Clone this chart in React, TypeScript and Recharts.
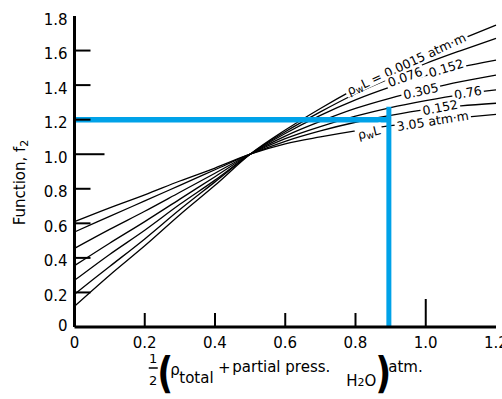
import React from 'react';
import { LineChart, Line, XAxis, YAxis, ReferenceDot, Label } from 'recharts';

const FONT = '"DejaVu Sans", sans-serif';

// x values: 1/2 (P_total + partial press. H2O), atm
const xValues = [0, 0.1, 0.2, 0.3, 0.4, 0.5, 0.6, 0.7, 0.8, 0.9, 1.0, 1.1, 1.2];

// Function f2 for each pwL curve
const f2_0015 = [0.12, 0.3, 0.47, 0.65, 0.82, 1.0, 1.14, 1.265, 1.38, 1.485, 1.58, 1.665, 1.747];
const f2_076 = [0.19, 0.35, 0.51, 0.68, 0.84, 1.0, 1.13, 1.245, 1.35, 1.44, 1.525, 1.6, 1.671];
const f2_152 = [0.27, 0.42, 0.56, 0.71, 0.85, 1.0, 1.12, 1.225, 1.315, 1.39, 1.455, 1.505, 1.545];
const f2_305 = [0.355, 0.485, 0.61, 0.74, 0.87, 1.0, 1.105, 1.19, 1.265, 1.325, 1.375, 1.42, 1.458];
const f2_76 = [0.455, 0.565, 0.67, 0.78, 0.89, 1.0, 1.09, 1.16, 1.22, 1.27, 1.31, 1.345, 1.372];
const f2_152b = [0.55, 0.64, 0.73, 0.82, 0.91, 1.0, 1.075, 1.135, 1.185, 1.225, 1.258, 1.28, 1.295];
const f2_305b = [0.61, 0.69, 0.765, 0.845, 0.92, 1.0, 1.06, 1.1, 1.135, 1.165, 1.19, 1.212, 1.231];

const curveSeries = [f2_0015, f2_076, f2_152, f2_305, f2_76, f2_152b, f2_305b];
const curveKeys = ['c1', 'c2', 'c3', 'c4', 'c5', 'c6', 'c7'];

// curve annotations (text, position in data units, angle)
const labelTexts = ['ρwL = 0.0015 atm·m', '0.076', '0.152', '0.305', '0.76', '0.152', 'ρwL', '3.05 atm·m'];
const labelX = [0.944, 0.941, 1.058, 0.986, 1.12, 1.041, 0.838, 1.02];
const labelY = [1.525, 1.447, 1.499, 1.366, 1.357, 1.271, 1.129, 1.193];
const labelAngles = [-25, -20, -17, -13, -10, -11, -14, -9];

// blue reading lines
const readX = 0.895;
const readY = 1.2;
const readTop = 1.275;
const blueH = [{ x: 0, y: readY }, { x: readX, y: readY }];
const blueV = [{ x: readX, y: 0 }, { x: readX, y: readTop }];

const xTicks = [0, 0.2, 0.4, 0.6, 0.8, 1.0, 1.2];
const yTicks = [0, 0.2, 0.4, 0.6, 0.8, 1.0, 1.2, 1.4, 1.6, 1.8];

const table = xValues.map((x, i) => {
  const row: any = { x };
  curveKeys.forEach((k, j) => {
    row[k] = curveSeries[j][i];
  });
  return row;
});

const fmt = (v: number) => (v === 0 ? '0' : v.toFixed(1));
const tickLen = (v: number) => (Math.abs(v - 1) < 1e-6 ? 28 : 14);

const BottomTick = (p: any) => {
  const v = p.payload.value;
  const edge = v === 0 || v === 1.2;
  return (
    <g>
      {!edge && <line x1={p.x} x2={p.x} y1={p.y} y2={p.y - tickLen(v)} stroke="#000" strokeWidth={2} />}
      <text x={p.x} y={p.y + 20.5} textAnchor="middle" fontFamily={FONT} fontSize={15} fill="#000">
        {fmt(v)}
      </text>
    </g>
  );
};

const TopTick = (p: any) => {
  const v = p.payload.value;
  const edge = v === 0 || v === 1.2;
  if (edge) return <g />;
  return <line x1={p.x} x2={p.x} y1={p.y} y2={p.y + tickLen(v)} stroke="#000" strokeWidth={2} />;
};

const LeftTick = (p: any) => {
  const v = p.payload.value;
  const edge = v === 0 || v === 1.8;
  return (
    <g>
      {!edge && <line x1={p.x} x2={p.x + tickLen(v) + 2} y1={p.y} y2={p.y} stroke="#000" strokeWidth={2} />}
      <text x={p.x - 7} y={p.y + (v === 0 ? 4 : 8.5)} textAnchor="end" fontFamily={FONT} fontSize={15} fill="#000">
        {fmt(v)}
      </text>
    </g>
  );
};

const RightTick = (p: any) => {
  const v = p.payload.value;
  const edge = v === 0 || v === 1.8;
  if (edge) return <g />;
  return <line x1={p.x} x2={p.x - tickLen(v)} y1={p.y} y2={p.y} stroke="#000" strokeWidth={2} />;
};

const XTitle = (props: any) => {
  const vb = props.viewBox;
  const cx = vb.x + vb.width / 2;
  const y0 = vb.y;
  const t = { fontFamily: FONT, fill: '#000' };
  const lpX = cx - 128;
  const rpX = cx + 90;
  const pY = y0 + 61;
  return (
    <g>
      <text x={cx - 132} y={y0 + 36} fontSize={13} textAnchor="middle" {...t}>1</text>
      <line x1={cx - 136.5} x2={cx - 127.5} y1={y0 + 41} y2={y0 + 41} stroke="#000" strokeWidth={1.5} />
      <text x={cx - 132} y={y0 + 58} fontSize={13} textAnchor="middle" {...t}>2</text>
      <text transform={`translate(${lpX} ${pY}) scale(1 1.2)`} fontSize={35} fontWeight="bold" {...t}>(</text>
      <text x={cx - 115} y={y0 + 48} fontSize={15} {...t}>ρ</text>
      <text x={cx - 106} y={y0 + 56} fontSize={15} {...t}>total</text>
      <text x={cx - 61} y={y0 + 46} fontSize={15} textAnchor="middle" {...t}>+</text>
      <text x={cx - 53} y={y0 + 45} fontSize={15} {...t}>partial press.</text>
      <text x={cx + 61} y={y0 + 59} fontSize={15} {...t}>
        <tspan>H</tspan>
        <tspan fontSize={11}>2</tspan>
        <tspan>O</tspan>
      </text>
      <text transform={`translate(${rpX} ${pY}) scale(1 1.2)`} fontSize={35} fontWeight="bold" {...t}>)</text>
      <text x={cx + 103} y={y0 + 45} fontSize={15} {...t}>atm.</text>
    </g>
  );
};

const YTitle = (props: any) => {
  const vb = props.viewBox;
  const x = vb.x + 19;
  const y = vb.y + vb.height / 2 + 11;
  return (
    <text
      x={x}
      y={y}
      transform={`rotate(-90 ${x} ${y})`}
      textAnchor="middle"
      dominantBaseline="central"
      fontFamily={FONT}
      fontSize={15}
      fill="#000"
    >
      <tspan>Function, f</tspan>
      <tspan fontSize={11} dy={4}>2</tspan>
    </text>
  );
};

const charW = (c: string) => {
  if (/[0-9]/.test(c)) return 0.636;
  if (c === '.' || c === ' ' || c === '·') return 0.318;
  if (c === '=') return 0.838;
  if (c === 'm') return 0.974;
  if (c === 't') return 0.392;
  if (c === 'w') return 0.62;
  return 0.61;
};

const LABEL_FS = 12.5;

const makeLabelShape = (text: string, angle: number) => (p: any) => {
  const { cx, cy } = p;
  const hasRho = text.startsWith('ρwL');
  let w = 0;
  for (const c of text) w += charW(c);
  w = w * LABEL_FS + 4;
  return (
    <g transform={`rotate(${angle} ${cx} ${cy})`}>
      <rect x={cx - w / 2} y={cy - 6.5} width={w} height={13} fill="#fff" />
      <text
        x={cx}
        y={cy}
        textAnchor="middle"
        dominantBaseline="central"
        fontFamily={FONT}
        fontSize={LABEL_FS}
        fill="#000"
      >
        {hasRho ? (
          <>
            <tspan>ρ</tspan>
            <tspan fontSize={9.5} dy={3}>w</tspan>
            <tspan dy={-3}>{text.slice(2)}</tspan>
          </>
        ) : (
          text
        )}
      </text>
    </g>
  );
};

export default function App() {
  return (
    <div style={{ position: 'absolute', left: 0, top: 0, background: '#fff' }}>
      <LineChart
        width={502}
        height={399}
        data={table}
        margin={{ top: 16, right: 6, bottom: 0, left: 0.5 }}
      >
        <XAxis
          xAxisId="b"
          dataKey="x"
          type="number"
          domain={[0, 1.2]}
          ticks={xTicks}
          interval={0}
          height={72}
          tickSize={0}
          tickMargin={0}
          tickLine={false}
          axisLine={{ stroke: '#000', strokeWidth: 3 }}
          tick={<BottomTick />}
          label={<Label content={<XTitle />} />}
        />
        <XAxis
          xAxisId="t"
          dataKey="x"
          type="number"
          orientation="top"
          domain={[0, 1.2]}
          ticks={xTicks}
          interval={0}
          height={0}
          tickSize={0}
          tickMargin={0}
          tickLine={false}
          axisLine={{ stroke: '#000', strokeWidth: 3 }}
          tick={<TopTick />}
        />
        <YAxis
          yAxisId="l"
          type="number"
          domain={[0, 1.8]}
          ticks={yTicks}
          interval={0}
          width={74}
          tickSize={0}
          tickMargin={0}
          tickLine={false}
          axisLine={{ stroke: '#000', strokeWidth: 3 }}
          tick={<LeftTick />}
          label={<Label content={<YTitle />} />}
        />
        <YAxis
          yAxisId="r"
          type="number"
          orientation="right"
          domain={[0, 1.8]}
          ticks={yTicks}
          interval={0}
          width={0}
          tickSize={0}
          tickMargin={0}
          tickLine={false}
          axisLine={{ stroke: '#000', strokeWidth: 3 }}
          tick={<RightTick />}
        />
        {curveKeys.map((k) => (
          <Line
            key={k}
            xAxisId="b"
            yAxisId="l"
            dataKey={k}
            type="monotone"
            stroke="#000"
            strokeWidth={1.3}
            dot={false}
            activeDot={false}
            isAnimationActive={false}
          />
        ))}
        {labelTexts.map((t, i) => (
          <ReferenceDot
            key={'lab' + i}
            xAxisId="b"
            yAxisId="l"
            x={labelX[i]}
            y={labelY[i]}
            r={1}
            shape={makeLabelShape(t, labelAngles[i])}
          />
        ))}
        <Line
          xAxisId="b"
          yAxisId="l"
          data={blueH}
          dataKey="y"
          type="linear"
          stroke="#00a2e8"
          strokeWidth={5.5}
          dot={false}
          activeDot={false}
          isAnimationActive={false}
        />
        <Line
          xAxisId="b"
          yAxisId="l"
          data={blueV}
          dataKey="y"
          type="linear"
          stroke="#00a2e8"
          strokeWidth={5}
          dot={false}
          activeDot={false}
          isAnimationActive={false}
        />
      </LineChart>
    </div>
  );
}
